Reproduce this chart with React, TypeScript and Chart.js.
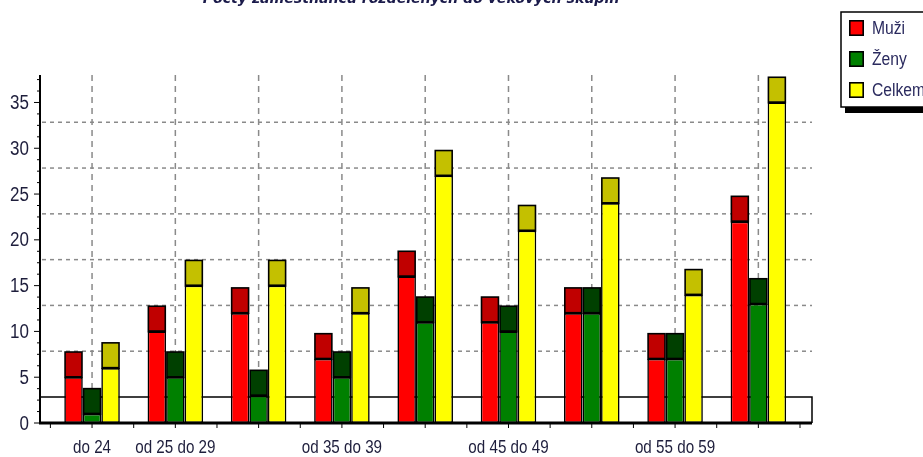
import React, { useEffect, useRef } from "react";
import { Chart, registerables } from "chart.js";

Chart.register(...registerables);

const chartTitle = "Počty zaměstnanců rozdělených do věkových skupin";
const categories = [
  "do 24",
  "od 25 do 29",
  "od 30 do 34",
  "od 35 do 39",
  "od 40 do 44",
  "od 45 do 49",
  "od 50 do 54",
  "od 55 do 59",
  "od 60",
];
const tickLabels = ["do 24", "od 25 do 29", "", "od 35 do 39", "", "od 45 do 49", "", "od 55 do 59", ""];
const seriesNames = ["Muži", "Ženy", "Celkem"];
const muzi = [5, 10, 12, 7, 16, 11, 12, 7, 22];
const zeny = [1, 5, 3, 5, 11, 10, 12, 7, 13];
const celkem = [6, 15, 15, 12, 27, 21, 24, 14, 35];
const yMax = 38;
const yStep = 5;

const FRONT = ["#ff0000", "#008000", "#ffff00"];
const CAP = ["#c00000", "#004000", "#c4c000"];
const DEPTH = 26;
const AXIS_X = 40;
const WALL_RIGHT = 812;
const FONT = '"Liberation Sans", Arial, sans-serif';
const TEXT = "#1e1e3c";

function line(ctx: CanvasRenderingContext2D, x1: number, y1: number, x2: number, y2: number) {
  ctx.beginPath();
  ctx.moveTo(x1, y1);
  ctx.lineTo(x2, y2);
  ctx.stroke();
}

function narrowText(
  ctx: CanvasRenderingContext2D,
  text: string,
  x: number,
  y: number,
  align: CanvasTextAlign,
  sx: number
) {
  ctx.save();
  ctx.translate(x, y);
  ctx.scale(sx, 1);
  ctx.textAlign = align;
  ctx.fillText(text, 0, 0);
  ctx.restore();
}

const deco = {
  id: "deco",
  beforeDatasetsDraw(chart: any) {
    const { ctx, chartArea, scales } = chart;
    const x = scales.x;
    const y = scales.y;
    const zero = y.getPixelForValue(0);
    ctx.save();
    // horizontal back-wall grid
    ctx.strokeStyle = "#8a8a8a";
    ctx.lineWidth = 1.5;
    ctx.setLineDash([4, 4]);
    y.ticks.forEach((t: any) => {
      if (t.value === 0) return;
      const py = y.getPixelForValue(t.value) - DEPTH;
      if (py < chartArea.top + 3) return;
      line(ctx, AXIS_X + 2, py, WALL_RIGHT, py);
    });
    // vertical grid
    ctx.setLineDash([6, 5]);
    categories.forEach((_, i) => {
      const px = x.getPixelForValue(i);
      line(ctx, px, chartArea.top, px, zero - DEPTH);
    });
    // floor band
    ctx.setLineDash([]);
    ctx.fillStyle = "#ffffff";
    ctx.fillRect(AXIS_X, zero - DEPTH, WALL_RIGHT - AXIS_X, DEPTH);
    ctx.strokeStyle = "#000";
    ctx.lineWidth = 1.5;
    ctx.beginPath();
    ctx.moveTo(AXIS_X, zero - DEPTH);
    ctx.lineTo(WALL_RIGHT, zero - DEPTH);
    ctx.lineTo(WALL_RIGHT, zero);
    ctx.stroke();
    ctx.restore();
  },
  afterDatasetsDraw(chart: any) {
    const { ctx, chartArea, scales } = chart;
    const x = scales.x;
    const y = scales.y;
    const zero = y.getPixelForValue(0);
    ctx.save();
    // caps
    chart.data.datasets.forEach((_: any, di: number) => {
      const meta = chart.getDatasetMeta(di);
      meta.data.forEach((el: any) => {
        const w = el.width;
        const l = el.x - w / 2;
        const t = el.y - DEPTH;
        ctx.fillStyle = "#000";
        ctx.fillRect(l, t, w, DEPTH + 1);
        ctx.fillStyle = CAP[di];
        ctx.fillRect(l + 1.6, t + 1.6, w - 3.2, DEPTH - 2.8);
      });
    });
    // axes
    ctx.strokeStyle = "#000";
    ctx.lineWidth = 2;
    line(ctx, AXIS_X, chartArea.top, AXIS_X, zero + 1);
    ctx.lineWidth = 3;
    line(ctx, AXIS_X - 1, zero, WALL_RIGHT, zero);
    // y ticks + labels
    ctx.lineWidth = 1;
    for (let v = 0; v <= yMax; v += yStep / 4) {
      const py = y.getPixelForValue(v);
      const major = Math.abs(v % yStep) < 1e-6;
      line(ctx, AXIS_X - (major ? 6 : 3), py, AXIS_X, py);
    }
    ctx.fillStyle = TEXT;
    ctx.font = `20px ${FONT}`;
    ctx.textBaseline = "middle";
    y.ticks.forEach((t: any) => {
      narrowText(ctx, String(t.value), 29, y.getPixelForValue(t.value) + 1, "right", 0.85);
    });
    // x ticks + labels
    const step = x.getPixelForValue(1) - x.getPixelForValue(0);
    for (let i = 0; i <= categories.length * 2; i++) {
      const px = chartArea.left + (i * step) / 2;
      line(ctx, px, zero, px, zero + 5);
    }
    ctx.font = `19px ${FONT}`;
    ctx.textBaseline = "alphabetic";
    tickLabels.forEach((lab, i) => {
      if (!lab) return;
      narrowText(ctx, lab, x.getPixelForValue(i), 453, "center", 0.8);
    });
    ctx.restore();
  },
  afterDraw(chart: any) {
    const { ctx } = chart;
    ctx.save();
    // title (cut off at top)
    ctx.font = 'italic bold 14px "DejaVu Sans", sans-serif';
    const w = ctx.measureText(chartTitle).width;
    const size = (14 * 417) / w;
    ctx.font = `italic bold ${size}px "DejaVu Sans", sans-serif`;
    ctx.fillStyle = "#1a1a4a";
    ctx.textAlign = "center";
    ctx.textBaseline = "alphabetic";
    ctx.fillText(chartTitle, 411, 3);
    // legend
    const lx = 841;
    const ly = 12;
    const lw = 110;
    const lh = 95;
    ctx.fillStyle = "#000";
    ctx.fillRect(lx + 4, ly + 4, lw, lh + 2);
    ctx.fillStyle = "#fff";
    ctx.fillRect(lx, ly, lw, lh);
    ctx.strokeStyle = "#000";
    ctx.lineWidth = 1.5;
    ctx.strokeRect(lx, ly, lw, lh);
    ctx.font = `18px ${FONT}`;
    ctx.textBaseline = "middle";
    seriesNames.forEach((name, i) => {
      const cy = ly + 16 + i * 31;
      ctx.fillStyle = "#000";
      ctx.fillRect(lx + 8, cy - 8, 15, 16);
      ctx.fillStyle = FRONT[i];
      ctx.fillRect(lx + 9.6, cy - 6.4, 11.8, 12.8);
      ctx.fillStyle = "#2a2a5e";
      narrowText(ctx, name, lx + 31, cy + 1, "left", 0.87);
    });
    ctx.restore();
  },
};

export default function App() {
  const ref = useRef<HTMLCanvasElement>(null);
  useEffect(() => {
    if (!ref.current) return;
    const chart = new Chart(ref.current, {
      type: "bar",
      data: {
        labels: categories,
        datasets: [muzi, zeny, celkem].map((d, i) => ({
          label: seriesNames[i],
          data: d,
          backgroundColor: FRONT[i],
          borderColor: "#000",
          borderWidth: 1.6,
          borderSkipped: false,
          categoryPercentage: 0.667,
          barPercentage: 1.0,
        })),
      },
      options: {
        animation: false,
        responsive: false,
        maintainAspectRatio: false,
        layout: { padding: { left: 0, right: 123, top: 75, bottom: 0 } },
        plugins: {
          legend: { display: false },
          title: { display: false },
          tooltip: { enabled: false },
        },
        scales: {
          x: {
            grid: { display: false, drawTicks: false },
            border: { display: false },
            ticks: { display: false, autoSkip: false },
            afterFit: (s: any) => {
              s.height = 34;
            },
          },
          y: {
            min: 0,
            max: yMax,
            grid: { display: false, drawTicks: false },
            border: { display: false },
            ticks: { display: false, stepSize: yStep, includeBounds: false },
            afterFit: (s: any) => {
              s.width = 50.4;
            },
          },
        },
      },
      plugins: [deco],
    });
    return () => chart.destroy();
  }, []);
  return (
    <div style={{ position: "fixed", left: 0, top: 0, width: 923, height: 457 }}>
      <canvas ref={ref} width={923} height={457} style={{ width: 923, height: 457 }} />
    </div>
  );
}
